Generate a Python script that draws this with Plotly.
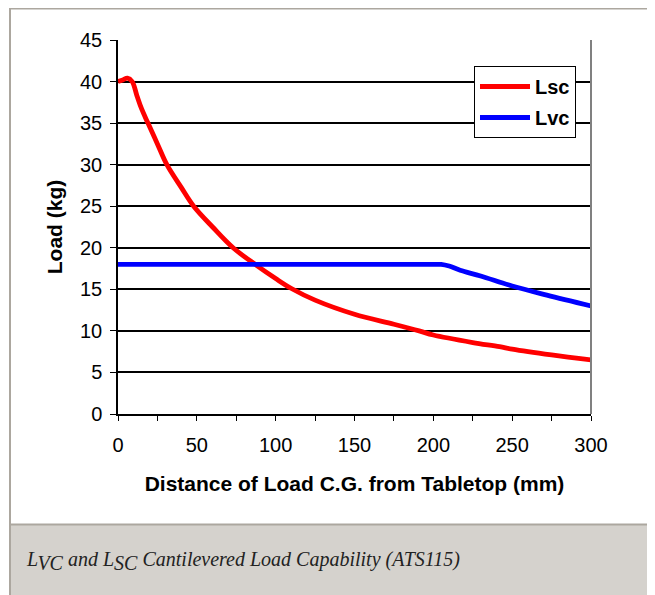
import plotly.graph_objects as go

# Data
lsc_x = [0, 3, 6, 9, 12, 15, 19, 25, 31, 40, 48, 60, 73, 87, 100, 110, 125, 150, 175, 191, 200, 225, 242, 250, 275, 300]
lsc_y = [40, 40.2, 40.4, 40.0, 38.3, 36.7, 35, 32.5, 30, 27.3, 25, 22.5, 20, 18, 16.3, 15.1, 13.7, 12.0, 10.8, 10, 9.5, 8.6, 8.1, 7.8, 7.1, 6.5]

lvc_x = [0, 50, 100, 150, 200, 205, 210, 217, 230, 250, 272, 300]
lvc_y = [18, 18, 18, 18, 18, 18, 17.8, 17.3, 16.6, 15.4, 14.3, 13]

x_ticks = [0, 50, 100, 150, 200, 250, 300]
y_ticks = [0, 5, 10, 15, 20, 25, 30, 35, 40, 45]

OFF = 8  # page body margin
W, H = 655 - OFF, 595 - OFF
L, R, T, B = 118 - OFF, 64, 40 - OFF, 181
pw, ph = W - L - R, H - T - B

def px(x):
    return (x - OFF - L) / pw

def py(y):
    return (H - B - (y - OFF)) / ph

fig = go.Figure()
fig.add_trace(go.Scatter(x=lsc_x, y=lsc_y, mode="lines", name="<b>Lsc</b>", legendgroup="a",
                         line=dict(color="#ff0000", width=4.8, shape="spline", smoothing=1)))
fig.add_trace(go.Scatter(x=lvc_x, y=lvc_y, mode="lines", name="<b>Lvc</b>", legendgroup="b",
                         line=dict(color="#0000ff", width=4.8, shape="spline", smoothing=1)))

font = "Liberation Sans, Arial, sans-serif"
border = "#aca79f"
shapes = [
    # caption background
    dict(type="rect", xref="paper", yref="paper", x0=px(10), x1=px(700), y0=py(525), y1=py(700),
         fillcolor="#d5d2cd", line=dict(width=0), layer="below"),
    # caption top line
    dict(type="line", xref="paper", yref="paper", x0=px(10), x1=px(700), y0=py(524.5), y1=py(524.5),
         line=dict(color=border, width=2)),
    # outer frame top
    dict(type="line", xref="paper", yref="paper", x0=px(9), x1=px(700), y0=py(8.75), y1=py(8.75),
         line=dict(color=border, width=1.5)),
    # outer frame left
    dict(type="line", xref="paper", yref="paper", x0=px(10), x1=px(10), y0=py(8), y1=py(700),
         line=dict(color=border, width=2)),
    # plot right border
    dict(type="line", xref="paper", yref="paper", x0=1, x1=1, y0=0, y1=1,
         line=dict(color="#808080", width=2)),
]

fig.update_layout(
    width=W, height=H,
    margin=dict(l=L, r=R, t=T, b=B, autoexpand=False),
    paper_bgcolor="white", plot_bgcolor="white",
    font=dict(family=font, color="black", size=20),
    shapes=shapes,
    showlegend=True,
    legend=dict(x=px(474), y=py(66), xanchor="left", yanchor="top",
                bgcolor="white", bordercolor="black", borderwidth=1,
                font=dict(family=font, size=20, color="black"),
                itemwidth=50, tracegroupgap=2),
    xaxis=dict(range=[0, 300], tickvals=x_ticks, ticktext=[str(v) for v in x_ticks],
               showgrid=False, zeroline=False, showline=True, linecolor="black", linewidth=1.5,
               ticks="outside", ticklen=5, tickcolor="black", ticklabelstandoff=7,
               minor=dict(ticks="outside", dtick=25, ticklen=5, tickcolor="black", showgrid=False),
               tickfont=dict(size=20),
               title=dict(text="<b>Distance of Load C.G. from Tabletop (mm)</b>",
                          font=dict(size=21), standoff=22)),
    yaxis=dict(range=[0, 45], tickvals=y_ticks, ticktext=[str(v) for v in y_ticks],
               showgrid=True, gridcolor="black", gridwidth=2, zeroline=False,
               showline=True, linecolor="black", linewidth=1.5,
               ticks="outside", ticklen=6, tickcolor="black", ticklabelstandoff=4,
               tickfont=dict(size=20),
               title=dict(text="<b>Load (kg)</b>", font=dict(size=21), standoff=12)),
    annotations=[
        dict(xref="paper", yref="paper", x=px(24), y=py(576), xanchor="left", yanchor="bottom",
             showarrow=False,
             text=("<i>L<sub><span style='font-size:20px'>VC</span></sub> and "
                   "L<sub><span style='font-size:20px'>SC</span></sub> "
                   "Cantilevered Load Capability (ATS115)</i>"),
             font=dict(family="Liberation Serif, Times New Roman, serif", size=20, color="#222222")),
    ],
)

fig.write_html("out.html")
